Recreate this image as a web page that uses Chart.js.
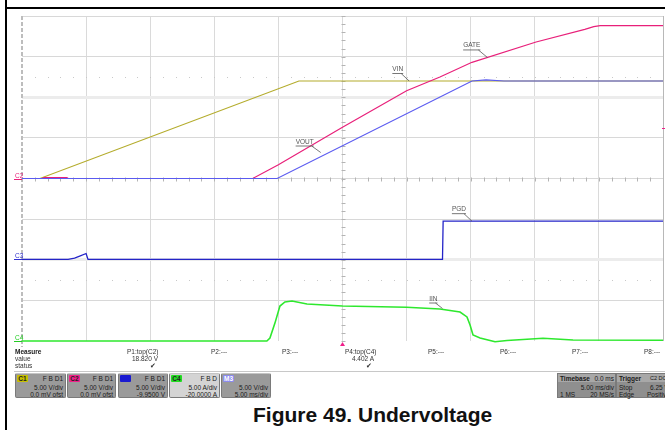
<!DOCTYPE html>
<html>
<head>
<meta charset="utf-8">
<script src="https://cdn.jsdelivr.net/npm/chart.js@4.4.1/dist/chart.umd.min.js"></script>
<style>
  body { margin: 0; background: #fff; font-family: Arial, "Liberation Sans", sans-serif; }
  #wrap { position: relative; width: 665px; height: 430px; overflow: hidden; }
  #frameL { position: absolute; left: 5px; top: 0; width: 2px; height: 430px; background: #000; }
  #frameT { position: absolute; left: 5px; top: 7px; width: 660px; height: 2px; background: #000; }
  #scope { position: absolute; left: 0; top: 0; }
  .m { position: absolute; font-size: 6.5px; line-height: 7px; color: #333; white-space: nowrap; }
  .mb { font-weight: bold; color: #222; }
  .r { text-align: right; }
  #sep { position: absolute; left: 14px; top: 371px; width: 651px; height: 1px; background: #c8c8c8; }
  .cb { position: absolute; top: 373px; height: 23px; background: #9a9a9a; border: 1px solid #7a7a7a;
        border-top-color: #c4c4c4; border-radius: 2px; font-size: 6.5px; line-height: 7px; color: #1a1a1a; }
  .tag { position: absolute; left: 1px; top: 1px; width: 11px; height: 7px; font-weight: bold; text-align: center;
         border-radius: 1px; }
  .fbd { position: absolute; right: 2px; top: 1px; }
  .l1 { position: absolute; right: 2px; top: 10px; }
  .l2 { position: absolute; right: 2px; top: 17px; }
  .tb { position: absolute; top: 373px; height: 23px; background: #8f8f8f; border: 1px solid #7a7a7a;
        font-size: 6.5px; line-height: 7px; color: #1a1a1a; }
  .tb .h { position: absolute; left: 0; right: 0; top: 0; height: 8px; background: #a8a8a8; }
  #caption { position: absolute; left: 253px; top: 404px; font-size: 21px; line-height: 21px; font-weight: bold;
             color: #111; white-space: nowrap; }
</style>
</head>
<body>
<div id="wrap">
  <canvas id="scope" width="665" height="350"></canvas>
  <div id="frameL"></div>
  <div id="frameT"></div>

  <!-- measure table -->
  <div class="m mb" style="left:15px;top:348px">Measure</div>
  <div class="m" style="left:15px;top:355px">value</div>
  <div class="m" style="left:15px;top:362px">status</div>
  <div id="measures"></div>
  <div id="sep"></div>

  <!-- channel boxes -->
  <div id="chanBoxes"></div>

  <div class="tb" style="left:557px;width:57px">
    <div class="h"></div>
    <span style="position:absolute;left:2px;top:1px;font-weight:bold">Timebase</span>
    <span style="position:absolute;right:1px;top:1px">0.0 ms</span>
    <span style="position:absolute;right:1px;top:10px">5.00 ms/div</span>
    <span style="position:absolute;left:2px;top:17px">1 MS</span>
    <span style="position:absolute;right:1px;top:17px">20 MS/s</span>
  </div>
  <div class="tb" style="left:616px;width:52px">
    <div class="h"></div>
    <span style="position:absolute;left:2px;top:1px;font-weight:bold">Trigger</span>
    <span style="position:absolute;left:33px;top:1px;font-size:5.5px">C2 DC</span>
    <span style="position:absolute;left:2px;top:10px">Stop</span>
    <span style="position:absolute;left:33px;top:10px">6.25 V</span>
    <span style="position:absolute;left:2px;top:17px">Edge</span>
    <span style="position:absolute;left:30px;top:17px">Positive</span>
  </div>

  <div id="caption">Figure 49. Undervoltage</div>
</div>

<script>
// time axis: 5 ms/div, 10 divisions, trigger at centre
const X_MIN = -25;
const X_MAX = 25;
const X_STEP = 5;

// VIN (C1, volts)
const vinTime  = [-25, -23.6, -3.4, 25];
const vinVolts = [0, 0, 12.0, 12.0];

// GATE (C2, volts)
const gateTime  = [-25, -23.4, -23.3, -21.5, -21.4, -7.0, -5.0, 0.0, 5.0, 7.6, 10.1, 15.1, 18.9, 19.6, 20.1, 25];
const gateVolts = [0, 0, 0.12, 0.12, 0, 0, 1.7, 6.3, 10.8, 12.5, 14.3, 16.8, 18.35, 18.7, 18.82, 18.82];

// VOUT (M3, volts)
const voutTime  = [-25, -5.1, 10.1, 11.2, 12.6, 25];
const voutVolts = [0, 0, 12.0, 12.15, 12.0, 12.0];

// PGD (C3, volts)
const pgdTime  = [-25, -21.4, -20.9, -20.5, -20.0, -19.85, 7.8, 7.85, 25];
const pgdVolts = [0, 0, 0.15, 0.4, 0.72, 0, 0, 4.7, 4.7];

// IIN (C4, amps)
const iinTime = [-25, -5.9, -5.66, -5.27, -4.88, -4.49, -3.94, -2.77, 0.0, 5.0, 7.6, 9.17, 9.71, 9.95, 10.18,
                 10.73, 11.9, 12.83, 15.64, 17.98, 25];
const iinAmps = [0, 0, 0.37, 2.2, 4.3, 4.8, 4.93, 4.56, 4.3, 4.15, 3.94, 3.57, 2.96, 1.97, 0.74,
                 0.37, -0.09, 0.06, 0.33, 0.12, 0.1];

// channel settings (5 V/div, 5 A/div, offsets from the info boxes)
const C12_OFFSET = 0;        // V
const C3_OFFSET = -9.95;     // V
const C4_OFFSET = -20;       // A
const TRIG_LEVEL = 6.25;     // V on C2

// measurements
const measureNames  = ['P1:top(C2)', 'P2:---', 'P3:---', 'P4:top(C4)', 'P5:---', 'P6:---', 'P7:---', 'P8:---'];
const measureValues = ['18.820 V', '', '', '4.402 A', '', '', '', ''];

// channel info boxes
const chanNames   = ['C1', 'C2', 'C3', 'C4', 'M3'];
const chanFlags   = ['F B D1', 'F B D1', 'F B D1', 'F B D', ''];
const chanScale   = ['5.00 V/div', '5.00 V/div', '5.00 V/div', '5.00 A/div', '5.00 V/div'];
const chanOffset  = ['0.0 mV ofst', '0.0 mV ofst', '-9.9500 V', '-20.0000 A', '5.00 ms/div'];

function pts(t, v) {
    return t.map((x, i) => ({ x: x, y: v[i] }));
}

// measure table
(function () {
    const lefts = [127, 211, 282, 345, 428, 500, 572, 644];
    const host = document.getElementById('measures');
    let html = '';
    measureNames.forEach((name, i) => {
        html += `<div class="m" style="left:${lefts[i]}px;top:348px">${name}</div>`;
        if (measureValues[i]) {
            html += `<div class="m r" style="left:${lefts[i]}px;width:${i === 0 ? 31 : 29}px;top:355px">${measureValues[i]}</div>`;
            html += `<div class="m r" style="left:${lefts[i]}px;width:${i === 0 ? 29 : 27}px;top:362px;font-size:7px">&#10004;</div>`;
        }
    });
    host.innerHTML = html;
})();

// channel boxes
(function () {
    const lefts  = [15, 67, 118, 169, 221];
    const widths = [49, 47, 48, 49, 48];
    const tagBg  = ['#c8c000', '#f0208a', '#1a1ad0', '#22dd22', '#8c8cee'];
    const tagFg  = ['#222', '#222', '#1a1ad0', '#222', '#fff'];
    const host = document.getElementById('chanBoxes');
    let html = '';
    chanNames.forEach((name, i) => {
        const bg = i === 3 ? '#d4d4d4' : '#9a9a9a';
        html += `<div class="cb" style="left:${lefts[i]}px;width:${widths[i]}px;background:${bg}">
            <span class="tag" style="background:${tagBg[i]};color:${tagFg[i]}">${name}</span>
            <span class="fbd">${chanFlags[i]}</span>
            <span class="l1">${chanScale[i]}</span>
            <span class="l2">${chanOffset[i]}</span></div>`;
    });
    host.innerHTML = html;
})();

// trace labels: text placed up-left of an anchor point on the trace
const traceLabels = [
    { text: 'GATE', axis: 'yV',   t: 11.3, v: 14.9, dx: -7, dy: -8 },
    { text: 'VIN',  axis: 'yV',   t: 5.2,  v: 12.0, dx: -6, dy: -8 },
    { text: 'VOUT', axis: 'yV',   t: -1.7, v: 3.2,  dx: -7, dy: -7 },
    { text: 'PGD',  axis: 'yPgd', t: 10.1, v: 4.7,  dx: -6, dy: -8 },
    { text: 'IIN',  axis: 'yIin', t: 7.8,  v: 4.0,  dx: -5, dy: -6 }
];

const channelMarks = [
    { text: 'C2', axis: 'yV',   v: C12_OFFSET, color: '#e8207a' },
    { text: 'C3', axis: 'yPgd', v: 0,          color: '#3030d0' },
    { text: 'C4', axis: 'yIin', v: 0,          color: '#22cc22' }
];

const scopeDecor = {
    id: 'scopeDecor',
    beforeDatasetsDraw(chart) {
        const { ctx, chartArea: a, scales } = chart;
        const x = scales.x, yV = scales.yV;
        const divX = (a.right - a.left) / 10;
        const divY = (a.bottom - a.top) / 8;
        ctx.save();
        // dashed left edge
        ctx.strokeStyle = '#bdbdbd';
        ctx.lineWidth = 2;
        ctx.setLineDash([4, 2]);
        ctx.beginPath();
        ctx.moveTo(a.left, a.top);
        ctx.lineTo(a.left, a.bottom + 6);
        ctx.stroke();
        ctx.setLineDash([]);
        // dotted half-division rows
        ctx.fillStyle = '#c8c8c8';
        [12.5, -12.5].forEach(v => {
            const y = Math.round(yV.getPixelForValue(v));
            for (let px = a.left + divX / 5; px < a.right - 1; px += divX / 5) {
                ctx.fillRect(Math.round(px), y, 1, 1);
            }
        });
        // minor ticks on centre cross
        ctx.strokeStyle = '#b4b4b4';
        ctx.lineWidth = 1;
        const cx = Math.round(x.getPixelForValue(0)) + 0.5;
        const cy = Math.round(yV.getPixelForValue(0)) + 0.5;
        ctx.beginPath();
        for (let py = a.top; py <= a.bottom; py += divY / 5) {
            ctx.moveTo(cx - 2, Math.round(py) + 0.5);
            ctx.lineTo(cx + 2, Math.round(py) + 0.5);
        }
        for (let px = a.left; px <= a.right; px += divX / 5) {
            ctx.moveTo(Math.round(px) + 0.5, cy - 2);
            ctx.lineTo(Math.round(px) + 0.5, cy + 2);
        }
        ctx.stroke();
        ctx.restore();
    },
    afterDatasetsDraw(chart) {
        const { ctx, chartArea: a, scales } = chart;
        const x = scales.x;
        ctx.save();
        ctx.font = '6.5px Arial';
        ctx.textBaseline = 'alphabetic';
        // channel markers on the left edge
        channelMarks.forEach(m => {
            const y = Math.round(scales[m.axis].getPixelForValue(m.v));
            ctx.fillStyle = m.color;
            ctx.fillText(m.text, a.left - 7, y - 1);
            ctx.fillRect(a.left - 8, y, 8, 1);
        });
        // trace labels
        traceLabels.forEach(l => {
            const px = x.getPixelForValue(l.t);
            const py = scales[l.axis].getPixelForValue(l.v);
            const w = ctx.measureText(l.text).width;
            const ex = px + l.dx, ey = py + l.dy;
            ctx.fillStyle = '#555';
            ctx.fillText(l.text, ex - w, ey - 2);
            ctx.strokeStyle = '#555';
            ctx.lineWidth = 0.8;
            ctx.beginPath();
            ctx.moveTo(ex - w, ey + 0.5);
            ctx.lineTo(ex, ey + 0.5);
            ctx.moveTo(ex - 2, ey + 0.5);
            ctx.lineTo(px, py);
            ctx.stroke();
        });
        // trigger position and level markers
        ctx.fillStyle = '#f0208a';
        const tx = x.getPixelForValue(0);
        ctx.beginPath();
        ctx.moveTo(tx - 2.5, a.bottom + 5);
        ctx.lineTo(tx + 2.5, a.bottom + 5);
        ctx.lineTo(tx, a.bottom + 1);
        ctx.closePath();
        ctx.fill();
        const ty = Math.round(scales.yV.getPixelForValue(TRIG_LEVEL));
        ctx.fillRect(a.right - 1, ty, 3, 1);
        ctx.restore();
    }
};

const xGridColor = c => c.tick.value === X_MIN ? 'rgba(0,0,0,0)' : (c.tick.value === X_MAX ? '#b8b8b8' : '#dadada');
const yGridColor = c => {
    const v = c.tick.value;
    if (v === -20) return 'rgba(0,0,0,0)';
    if (v === 10 || v === -10) return '#ececec';
    return '#d8d8d8';
};

new Chart(document.getElementById('scope'), {
    type: 'line',
    data: {
        datasets: [
            { label: 'IIN',  data: pts(iinTime, iinAmps),   yAxisID: 'yIin', borderColor: '#2ee82e', borderWidth: 1.6 },
            { label: 'PGD',  data: pts(pgdTime, pgdVolts),  yAxisID: 'yPgd', borderColor: '#2424c8', borderWidth: 1.3 },
            { label: 'VOUT', data: pts(voutTime, voutVolts), yAxisID: 'yV',  borderColor: '#5a5af0', borderWidth: 1.2 },
            { label: 'GATE', data: pts(gateTime, gateVolts), yAxisID: 'yV',  borderColor: '#e8207a', borderWidth: 1.2 },
            { label: 'VIN',  data: pts(vinTime, vinVolts),  yAxisID: 'yV',   borderColor: '#b4ac2c', borderWidth: 1.2 }
        ]
    },
    options: {
        responsive: false,
        animation: false,
        devicePixelRatio: 1,
        parsing: true,
        layout: { padding: { left: 22, top: 16, right: 2, bottom: 9 } },
        plugins: { legend: { display: false }, tooltip: { enabled: false } },
        elements: { point: { radius: 0 }, line: { tension: 0, fill: false } },
        datasets: { line: { clip: 3 } },
        scales: {
            x: {
                type: 'linear', min: X_MIN, max: X_MAX,
                afterFit: s => { s.height = 0; },
                ticks: { display: false, stepSize: X_STEP },
                border: { display: false },
                grid: { color: xGridColor, drawTicks: false, lineWidth: 1 }
            },
            yV: {
                position: 'left', min: C12_OFFSET - 20, max: C12_OFFSET + 20,
                afterFit: s => { s.width = 0; },
                ticks: { display: false, stepSize: 5 },
                border: { display: false },
                grid: { color: yGridColor, drawTicks: false,
                        lineWidth: c => (c.tick.value === 10 || c.tick.value === -10) ? 3 : 1 }
            },
            yPgd: { display: false, min: -C3_OFFSET - 20, max: -C3_OFFSET + 20 },
            yIin: { display: false, min: -C4_OFFSET - 20, max: -C4_OFFSET + 20 }
        }
    },
    plugins: [scopeDecor]
});
</script>
</body>
</html>
